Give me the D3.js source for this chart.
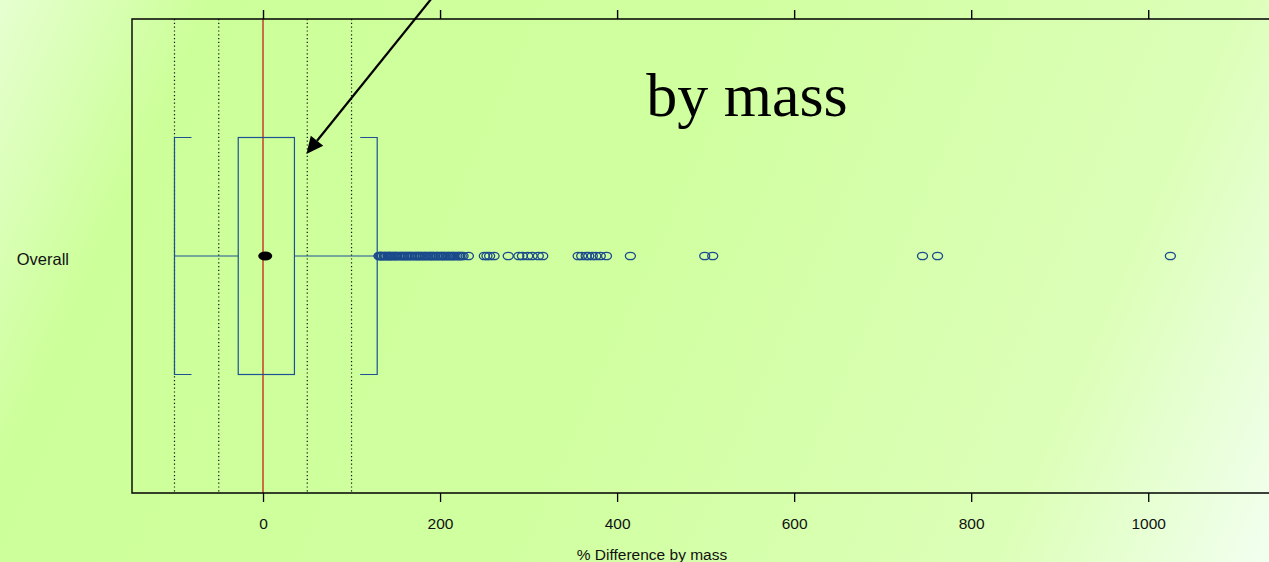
<!DOCTYPE html>
<html>
<head>
<meta charset="utf-8">
<script src="https://cdn.jsdelivr.net/npm/d3@7/dist/d3.min.js"></script>
<style>
  html, body { margin: 0; padding: 0; overflow: hidden; }
  svg { display: block; }
</style>
</head>
<body>
<svg id="chart" width="1269" height="562"></svg>
<script>
// ---- data ----
const categories = ["Overall"];
const xTicks = [0, 200, 400, 600, 800, 1000];
const refLines = [-100, -50, 50, 100];
const zeroLine = [0];
const boxQuartiles = [-28, 2.5, 35.5];   // q1, median, q3
const whiskerEnds = [-100, 129];
const outliers = [
  131, 132, 133, 134, 135, 137, 138, 139, 141, 142, 143, 144, 146, 147, 149,
  150, 151, 153, 155, 156, 158, 159, 161, 162, 164, 165, 167, 168, 170, 172,
  173, 175, 176, 178, 179, 181, 183, 184, 186, 188, 189, 191, 192, 194, 196,
  197, 199, 201, 202, 204, 205, 207, 209, 210, 212, 214, 215, 217, 219, 221,
  222, 224, 226,
  232, 250, 253, 256, 261, 277, 289, 293, 299, 304, 311, 316,
  356, 360, 365, 368, 372, 376, 381, 388, 415, 499, 508, 745, 762, 1025
];
const titleText = "by mass";
const xLabel = "% Difference by mass";

(function () {
// ---- setup ----
const W = 1269, H = 562;
const svg = d3.select("#chart");
const defs = svg.append("defs");
const grad = defs.append("linearGradient")
  .attr("id", "bg").attr("gradientUnits", "userSpaceOnUse")
  .attr("x1", 0).attr("y1", 0).attr("x2", W).attr("y2", H);
[[0, "#e6ffd0"], [0.14, "#ccff99"], [0.5, "#d0ffa0"], [0.82, "#dcffb8"], [1, "#f2fff0"]]
  .forEach(([o, c]) => grad.append("stop").attr("offset", o).attr("stop-color", c));
svg.append("rect").attr("width", W).attr("height", H).attr("fill", "url(#bg)");

const pLeft = 132, pTop = 19, pBottom = 493;
const x = d3.scaleLinear().domain([-148, 1185]).range([pLeft, 1312]);
const y = d3.scaleBand().domain(categories).range([pTop, pBottom]);
const cy = c => y(c) + y.bandwidth() / 2;

const blue = "#1f5096";

// reference dotted lines
svg.append("g").selectAll("line").data(refLines).join("line")
  .attr("x1", d => x(d)).attr("x2", d => x(d))
  .attr("y1", pTop).attr("y2", pBottom)
  .attr("stroke", "#111").attr("stroke-width", 1.2)
  .attr("stroke-dasharray", "1.2,2.6");

// zero line
svg.append("g").selectAll("line").data(zeroLine).join("line")
  .attr("x1", d => x(d)).attr("x2", d => x(d))
  .attr("y1", pTop).attr("y2", pBottom)
  .attr("stroke", "#c8201a").attr("stroke-width", 1.3);

// frame
svg.append("path")
  .attr("d", `M1300,${pTop}H${pLeft}V${pBottom}H1300`)
  .attr("fill", "none").attr("stroke", "#000").attr("stroke-width", 1.4);

// axes
const axB = d3.axisBottom(x).tickValues(xTicks).tickSize(9).tickPadding(16).tickFormat(d3.format("d"));
const gB = svg.append("g").attr("transform", `translate(0,${pBottom})`).call(axB);
gB.select(".domain").remove();
gB.selectAll("line").attr("stroke", "#000").attr("stroke-width", 1.3);
gB.selectAll("text").attr("font-family", "Liberation Sans, Arial, sans-serif")
  .attr("font-size", 15.5).attr("fill", "#111");

const axT = d3.axisTop(x).tickValues(xTicks).tickSize(9).tickFormat("");
const gT = svg.append("g").attr("transform", `translate(0,${pTop})`).call(axT);
gT.select(".domain").remove();
gT.selectAll("line").attr("stroke", "#000").attr("stroke-width", 1.4);

// boxplot
const bh = y.bandwidth() * 0.5;
const staple = 17;
categories.forEach(c => {
  const g = svg.append("g");
  const yc = cy(c);
  const [q1, med, q3] = boxQuartiles;
  const [lo, hi] = whiskerEnds;
  g.append("line").attr("x1", x(lo)).attr("x2", x(q1)).attr("y1", yc).attr("y2", yc)
    .attr("stroke", blue).attr("stroke-width", 1);
  g.append("line").attr("x1", x(q3)).attr("x2", x(hi)).attr("y1", yc).attr("y2", yc)
    .attr("stroke", blue).attr("stroke-width", 1);
  g.append("path").attr("d", `M${x(lo) + staple},${yc - bh / 2}H${x(lo)}V${yc + bh / 2}H${x(lo) + staple}`)
    .attr("fill", "none").attr("stroke", blue).attr("stroke-width", 1.2);
  g.append("path").attr("d", `M${x(hi) - staple},${yc - bh / 2}H${x(hi)}V${yc + bh / 2}H${x(hi) - staple}`)
    .attr("fill", "none").attr("stroke", blue).attr("stroke-width", 1.2);
  g.append("rect").attr("x", x(q1)).attr("width", x(q3) - x(q1))
    .attr("y", yc - bh / 2).attr("height", bh)
    .attr("fill", "none").attr("stroke", blue).attr("stroke-width", 1.2);
  g.append("ellipse").attr("cx", x(med)).attr("cy", yc).attr("rx", 7).attr("ry", 4.5)
    .attr("fill", "#000");
  g.selectAll("ellipse.out").data(outliers).join("ellipse").attr("class", "out")
    .attr("cx", d => x(d)).attr("cy", yc).attr("rx", 5).attr("ry", 3.7)
    .attr("fill", "none").attr("stroke", "#1a4a8c").attr("stroke-width", 1.3);
  svg.append("text").attr("x", 69).attr("y", yc + 8.5).attr("text-anchor", "end")
    .attr("font-family", "Liberation Sans, Arial, sans-serif").attr("font-size", 16.5)
    .attr("fill", "#111").text(c);
});

// x label
svg.append("text").attr("x", 652).attr("y", 560).attr("text-anchor", "middle")
  .attr("font-family", "Liberation Sans, Arial, sans-serif").attr("font-size", 15.5)
  .attr("fill", "#111").text(xLabel);

// title
svg.append("text").attr("x", 747).attr("y", 116).attr("text-anchor", "middle")
  .attr("font-family", "Liberation Serif, Times New Roman, serif").attr("font-size", 62)
  .attr("fill", "#000").text(titleText);

// arrow annotation
const tip = [x(49), 154];
const start = [440, -12];
const ang = Math.atan2(tip[1] - start[1], tip[0] - start[0]);
const L = 17, hw = 8;
const bx = tip[0] - L * Math.cos(ang), by = tip[1] - L * Math.sin(ang);
svg.append("line").attr("x1", start[0]).attr("y1", start[1]).attr("x2", bx).attr("y2", by)
  .attr("stroke", "#000").attr("stroke-width", 2.2);
svg.append("path")
  .attr("d", `M${tip[0]},${tip[1]}L${bx + hw * Math.sin(ang)},${by - hw * Math.cos(ang)}L${bx - hw * Math.sin(ang)},${by + hw * Math.cos(ang)}Z`)
  .attr("fill", "#000");
})();
</script>
</body>
</html>
